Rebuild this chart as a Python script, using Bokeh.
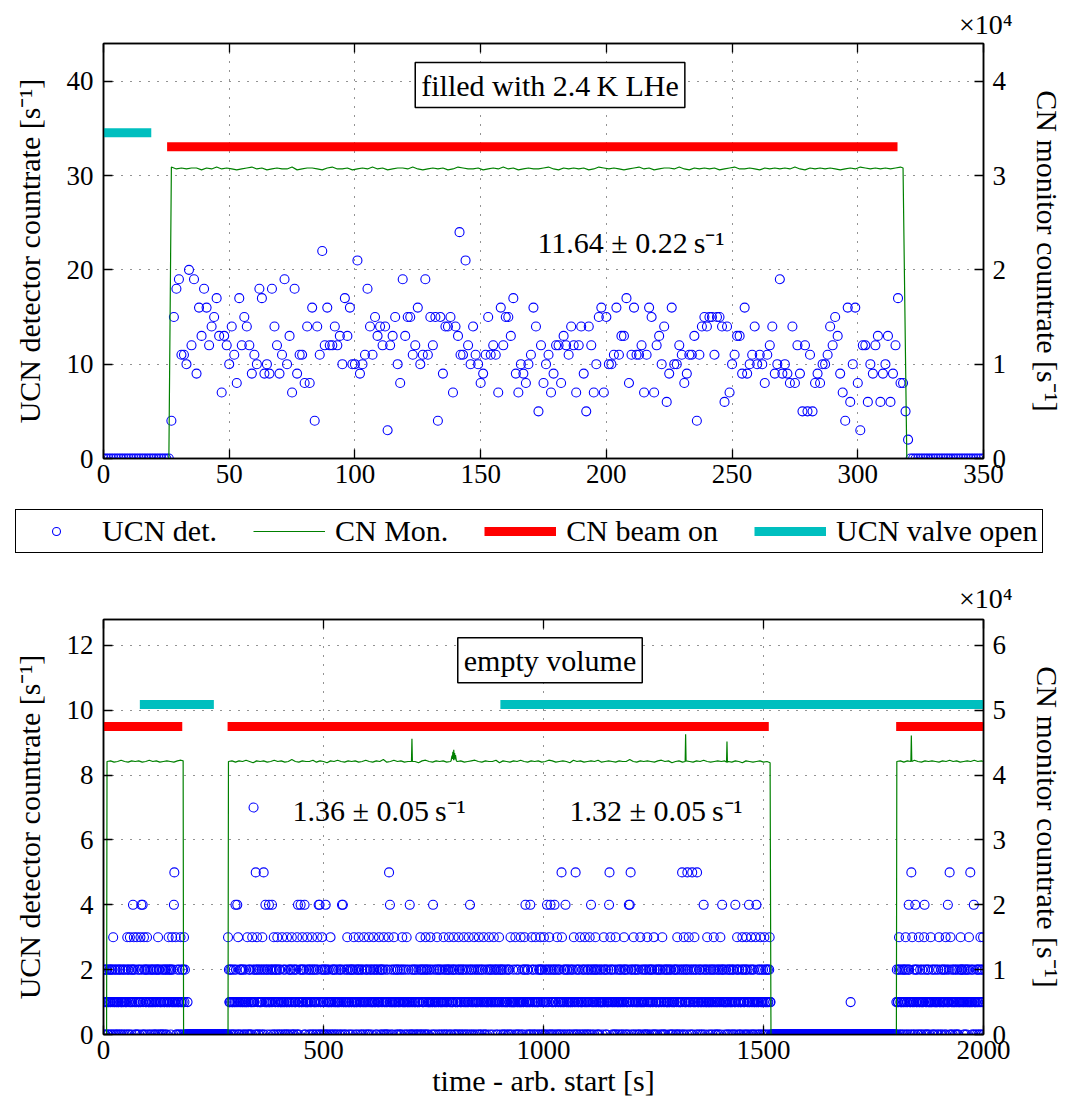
import numpy as np
from bokeh.plotting import figure
from bokeh.models import (Range1d, LinearAxis, FixedTicker, Label, Legend,
                          LegendItem, ColumnDataSource, Title)
from bokeh.layouts import column
from bokeh.embed import file_html
from bokeh.resources import INLINE

FONT = "Liberation Serif"
TICK_FS = "27px"
LAB_FS = "30px"
BLUE = "#0000FF"
GREEN = "#008000"
RED = "#FF0000"
CYAN = "#00BFBF"

# ------------------------------------------------------------------ top panel data
top_x_ticks = [0, 50, 100, 150, 200, 250, 300, 350]
top_y_ticks = [0, 10, 20, 30, 40]
top_cn_ticks = [0, 1, 2, 3, 4]

ucn_top_zero_t = list(range(0, 27)) + list(range(321, 351))
ucn_top_t = list(range(27, 321))
ucn_top_v = [
    4, 15, 18, 19, 11, 11, 10, 20, 12, 19,
    9, 16, 13, 18, 16, 12, 14, 15, 17, 13,
    7, 13, 12, 10, 14, 11, 8, 17, 12, 15,
    14, 12, 9, 11, 10, 18, 17, 9, 10, 9,
    18, 14, 12, 9, 11, 19, 10, 13, 7, 18,
    9, 11, 11, 8, 14, 8, 16, 4, 14, 11,
    22, 12, 16, 12, 12, 14, 12, 13, 10, 17,
    13, 16, 10, 10, 21, 9, 10, 11, 18, 14,
    11, 15, 13, 14, 12, 14, 3, 12, 13, 15,
    10, 8, 19, 13, 15, 15, 11, 12, 16, 10,
    11, 19, 11, 15, 12, 15, 4, 15, 9, 14,
    14, 15, 7, 14, 13, 11, 11, 21, 12, 10,
    14, 11, 10, 8, 9, 11, 15, 11, 12, 11,
    7, 16, 12, 15, 15, 13, 17, 9, 7, 10,
    9, 8, 10, 11, 16, 14, 5, 12, 8, 10,
    11, 7, 9, 12, 12, 8, 13, 12, 11, 14,
    12, 7, 12, 14, 9, 5, 14, 12, 7, 10,
    15, 16, 7, 15, 10, 10, 11, 16, 11, 13,
    13, 17, 8, 11, 16, 11, 11, 12, 7, 11,
    16, 15, 7, 12, 13, 10, 14, 6, 9, 16,
    10, 10, 12, 11, 8, 9, 11, 11, 13, 4,
    11, 14, 15, 14, 15, 15, 11, 15, 15, 14,
    6, 14, 7, 10, 11, 13, 13, 9, 16, 9,
    10, 11, 14, 10, 11, 10, 8, 11, 12, 14,
    9, 10, 19, 9, 10, 9, 8, 14, 8, 12,
    9, 5, 12, 5, 11, 5, 8, 9, 8, 10,
    10, 11, 14, 12, 15, 13, 9, 7, 4, 16,
    6, 10, 16, 8, 3, 12, 12, 6, 10, 9,
    12, 13, 6, 9, 10, 13, 6, 9, 12, 17,
    8, 8, 5, 2,
]
ucn_top_extra_t = [141.6]
ucn_top_extra_v = [24]

# CN monitor, in units of 1e4 s^-1
cn_top_t = [0, 26, 27] + list(range(29, 318, 2)) + [318, 319.5, 350]
cn_top_v = [0, 0, 3.09] + [
    3.07, 3.08, 3.07, 3.08, 3.08, 3.06, 3.08, 3.07, 3.09, 3.07,
    3.08, 3.07, 3.06, 3.07, 3.08, 3.09, 3.07, 3.08, 3.06, 3.07,
    3.08, 3.07, 3.07, 3.09, 3.06, 3.07, 3.08, 3.08, 3.07, 3.06,
    3.08, 3.09, 3.07, 3.07, 3.08, 3.06, 3.07, 3.08, 3.07, 3.09,
    3.07, 3.08, 3.06, 3.07, 3.08, 3.08, 3.07, 3.09, 3.07, 3.06,
    3.07, 3.08, 3.07, 3.08, 3.06, 3.07, 3.09, 3.08, 3.07, 3.07,
    3.08, 3.06, 3.07, 3.08, 3.07, 3.09, 3.07, 3.08, 3.06, 3.07,
    3.08, 3.07, 3.07, 3.08, 3.09, 3.07, 3.06, 3.08, 3.07, 3.08,
    3.07, 3.08, 3.06, 3.07, 3.09, 3.08, 3.07, 3.08, 3.07, 3.06,
    3.07, 3.08, 3.09, 3.07, 3.08, 3.06, 3.07, 3.08, 3.08, 3.07,
    3.09, 3.07, 3.06, 3.08, 3.07, 3.08, 3.07, 3.08, 3.06, 3.07,
    3.08, 3.09, 3.07, 3.07, 3.08, 3.07, 3.06, 3.08, 3.07, 3.08,
    3.07, 3.08, 3.07, 3.09, 3.07, 3.06, 3.08, 3.07, 3.08, 3.07,
    3.08, 3.07, 3.06, 3.07, 3.08, 3.07, 3.09, 3.08, 3.07, 3.08,
    3.07, 3.08, 3.07, 3.08, 3.09,
] + [3.08, 0, 0]

beam_top_start = [25.3]
beam_top_end = [315.8]
beam_top_y = 33.05
valve_top_start = [0]
valve_top_end = [19]
valve_top_y = 34.55

# ------------------------------------------------------------------ bottom panel data
bot_x_ticks = [0, 500, 1000, 1500, 2000]
bot_y_ticks = [0, 2, 4, 6, 8, 10, 12]
bot_cn_ticks = [0, 1, 2, 3, 4, 5, 6]

# counts per 1 s bin (0/1/2 part) during the beam-on spans
on_spans = [(0, 185), (283, 1516), (1802, 2000)]
ucn_bot_A = """
12010211201012210120211012102101201120210112012101
21011202100121021120120101202110210112021012021120
02110121021120120101220112021011020120112021012102
11202101210211201021101202110212011210210121012011
"""
ucn_bot_C = """
10211201201102101221011201021210211201012110210120
20110212011201021120012110211021012011210210112012
11201021120211012021101210211020112010211202110120
01211201021011202110212011012101120210121102012110
21012110201120121012021102011210120112021021102101
12101202110211201012102101120211202101120112012021
01120210121201120210110212101120121102012110120210
21201101201012021121021101201121012021101201021112
10112021102112010210120121102011021101202011210201
12021011210120112021101210201120211012101120120112
02112010121121020110211012021101202110121012011220
11201210102011210121102011201212010211012110201211
20110211201210120112021120102110121102021021101121
11021201102101121012011202110121201102101211020112
01211012021120210110210121102110210120112012110210
12102011210112012101212011021102112021011201021120
21011210201121010212011021120112012012102011021121
10120112021011212010212011021011021101210211201012
11202101120210112021101210211201120102112101210120
02110120121120211010210112021112021011201012021121
12011202101012112020112010121102110210121120121010
21102101210121021101120211012010120121102101121021
10211210102110201211012021121011210102120112011202
01121021211020110121210112021012102112011201021101
12102110201121012011021120121020112101201120210121
"""
ucn_bot_E = """
12011210210112012102112011021210112021102101211201
02112010121102120110201210112112010210112110120211
10210121120120211012110201210121102101201012110212
21101201210211201101210120211011201210210112012101
"""
ucn_bot_off_one_t = [191, 1698]
ucn_r3_t = [22, 54, 60, 69, 76, 84, 92, 99, 124, 148, 156, 164, 175, 183,
            283, 306, 327, 338, 349, 361, 387, 395, 406, 417, 428, 440, 452,
            463, 474, 486, 497, 516, 554, 569, 580, 592, 603, 614, 626, 637,
            648, 660, 679, 689, 720, 732, 743, 758, 773, 785, 796, 807, 819,
            830, 842, 853, 864, 876, 887, 899, 925, 936, 948, 957, 973, 982,
            993, 1001, 1013, 1031, 1042, 1069, 1083, 1094, 1105, 1118, 1137,
            1152, 1164, 1183, 1205, 1220, 1236, 1251, 1270, 1304, 1319, 1330,
            1343, 1372, 1387, 1402, 1440, 1452, 1461, 1472, 1482, 1493, 1502,
            1514, 1808, 1823, 1838, 1853, 1865, 1880, 1899, 1914, 1925, 1948,
            1967, 1993, 1999]
ucn_r4_t = [67, 86, 89, 160, 300, 304, 368, 376, 383, 442, 448, 457, 489,
            491, 505, 542, 544, 651, 696, 749, 833, 959, 970, 1008, 1016,
            1025, 1050, 1108, 1149, 1194, 1196, 1364, 1406, 1436, 1467, 1484,
            1830, 1845, 1866, 1919, 1978]
ucn_r5_t = [161, 346, 364, 649, 1041, 1073, 1150, 1198, 1315, 1327, 1338,
            1349, 1836, 1923, 1970]
ucn_r7_t = [341]

cn_bot_t = ([0, 7] + list(range(8, 181, 8)) + [181, 182, 283]
            + list(range(284, 1516, 8)) + [1515, 1517, 1802]
            + list(range(1803, 2001, 8)) + [2000])
cn_bot_v = ([0, 0] + [
    4.21, 4.22, 4.20, 4.21, 4.23, 4.21, 4.20, 4.22, 4.21, 4.22,
    4.20, 4.21, 4.23, 4.21, 4.22, 4.20, 4.21, 4.22, 4.21, 4.20,
    4.22, 4.23] + [4.22, 0, 0] + [
    4.21, 4.22, 4.20, 4.22, 4.21, 4.23, 4.21, 4.19, 4.22, 4.21,
    4.22, 4.20, 4.21, 4.23, 4.21, 4.22, 4.20, 4.21, 4.24, 4.21,
    4.20, 4.22, 4.21, 4.21, 4.23, 4.20, 4.22, 4.21, 4.19, 4.22,
    4.21, 4.23, 4.21, 4.20, 4.22, 4.21, 4.22, 4.20, 4.21, 4.23,
    4.21, 4.20, 4.22, 4.21, 4.24, 4.20, 4.21, 4.23, 4.21, 4.22,
    4.20, 4.21, 4.22, 4.21, 4.19, 4.22, 4.23, 4.21, 4.20, 4.22,
    4.21, 4.22, 4.20, 4.21, 4.23, 4.21, 4.22, 4.20, 4.21, 4.22,
    4.23, 4.21, 4.20, 4.22, 4.21, 4.21, 4.23, 4.19, 4.22, 4.21,
    4.20, 4.22, 4.21, 4.23, 4.21, 4.20, 4.22, 4.21, 4.22, 4.20,
    4.21, 4.23, 4.22, 4.20, 4.21, 4.22, 4.21, 4.19, 4.23, 4.21,
    4.22, 4.20, 4.21, 4.22, 4.21, 4.23, 4.20, 4.21, 4.22, 4.21,
    4.20, 4.22, 4.21, 4.21, 4.24, 4.21, 4.20, 4.22, 4.21, 4.22,
    4.21, 4.20, 4.22, 4.23, 4.21, 4.22, 4.19, 4.21, 4.22, 4.20,
    4.22, 4.21, 4.20, 4.22, 4.21, 4.23, 4.21, 4.20, 4.21, 4.22,
    4.21, 4.22, 4.21, 4.20, 4.22, 4.21, 4.19, 4.22, 4.21, 4.20,
    4.21, 4.22, 4.20, 4.21] + [4.19, 0, 0] + [
    4.21, 4.22, 4.20, 4.22, 4.21, 4.23, 4.21, 4.20, 4.22, 4.21,
    4.22, 4.21, 4.20, 4.22, 4.21, 4.23, 4.21, 4.22, 4.20, 4.21,
    4.22, 4.21, 4.23, 4.21, 4.22] + [4.21])
cn_bot_spike_t = [700, 701, 702, 790, 792, 793, 794, 795, 796, 797, 798, 799,
                  800, 802, 1322, 1323, 1324, 1416, 1417, 1418, 1835, 1836, 1837]
cn_bot_spike_v = [4.21, 4.56, 4.21, 4.22, 4.30, 4.25, 4.36, 4.26, 4.39, 4.28,
                  4.34, 4.24, 4.31, 4.22, 4.21, 4.63, 4.21, 4.20, 4.52, 4.20,
                  4.21, 4.61, 4.21]

beam_bot_start = [0, 282, 1801.5]
beam_bot_end = [179, 1512, 2000]
beam_bot_y = 9.5
valve_bot_start = [82.6, 902]
valve_bot_end = [250.8, 2000]
valve_bot_y = 10.18

legend_labels = ["UCN det.", "CN Mon.", "CN beam on", "UCN valve open"]
multiplier_text = "×10⁴"

# ------------------------------------------------------------------ layout sizes (px)
FRAME_W, FRAME_H = 880, 415
BORDER_L, BORDER_R = 103, 84
PAGE_W = BORDER_L + FRAME_W + BORDER_R


# ------------------------------------------------------------------ helpers
def make_fig(xr, yr, cnr, xt, yt, cnt, top_border, bottom_border,
             mult_standoff, xlabel=None):
    p = figure(frame_width=FRAME_W, frame_height=FRAME_H,
               x_range=Range1d(*xr), y_range=Range1d(*yr),
               output_backend="svg", toolbar_location=None,
               min_border_left=BORDER_L, min_border_right=BORDER_R,
               min_border_top=top_border, min_border_bottom=bottom_border)
    p.extra_y_ranges = {"cn": Range1d(*cnr)}
    lax = p.left[0]
    bax = p.below[0]
    lax.ticker = FixedTicker(ticks=yt)
    bax.ticker = FixedTicker(ticks=xt)
    lax.axis_label = "UCN detector countrate [s⁻¹]"
    lax.axis_label_standoff = 18
    lax.major_label_standoff = 10
    rax = LinearAxis(y_range_name="cn", ticker=FixedTicker(ticks=cnt),
                     axis_label="CN monitor countrate [s⁻¹]")
    rax.axis_label_standoff = 22
    rax.major_label_standoff = 9
    p.add_layout(rax, "right")
    tax = LinearAxis(ticker=FixedTicker(ticks=xt),
                     major_label_overrides={t: "" for t in xt},
                     major_label_standoff=0)
    p.add_layout(tax, "above")
    bax.major_label_standoff = 6
    if xlabel:
        bax.axis_label = xlabel
        bax.axis_label_standoff = 2
    for ax in [lax, bax, rax, tax]:
        ax.major_tick_in = 9
        ax.major_tick_out = 0
        ax.minor_tick_line_color = None
        ax.axis_line_width = 1.5
        ax.axis_line_color = "black"
        ax.major_tick_line_width = 1.3
        ax.major_tick_line_color = "black"
        ax.major_label_text_font = FONT
        ax.major_label_text_color = "black"
        ax.major_label_text_font_size = TICK_FS
        ax.axis_label_text_font = FONT
        ax.axis_label_text_font_size = LAB_FS
        ax.axis_label_text_font_style = "normal"
        ax.axis_label_text_color = "black"
    # "x10^4" multiplier of the right axis, above its top end
    p.add_layout(Title(text=multiplier_text, align="right", offset=-29,
                       standoff=mult_standoff,
                       text_font=FONT, text_font_size="28px",
                       text_font_style="normal", text_color="black"),
                 "above")
    p.xgrid.ticker = FixedTicker(ticks=xt)
    p.ygrid.ticker = FixedTicker(ticks=yt)
    for g in [p.xgrid[0], p.ygrid[0]]:
        g.grid_line_color = "black"
        g.grid_line_dash = "1 8"
        g.grid_line_width = 1
        g.grid_line_alpha = 0.85
    p.outline_line_color = "black"
    p.outline_line_width = 1.5
    p.outline_line_alpha = 1
    p.background_fill_color = "white"
    p.border_fill_color = "white"
    return p


def strip(height):
    s = figure(frame_width=PAGE_W, frame_height=height,
               x_range=Range1d(0, PAGE_W), y_range=Range1d(0, height),
               output_backend="svg", toolbar_location=None,
               x_axis_type=None, y_axis_type=None, min_border=0)
    s.grid.visible = False
    s.outline_line_color = None
    s.background_fill_color = "white"
    s.border_fill_color = "white"
    return s


def box_label(x, y, text):
    return Label(x=x, y=y, text=text, text_font=FONT, text_font_size=LAB_FS,
                 text_color="black",
                 text_align="center", text_baseline="middle",
                 border_line_color="black", border_line_width=1.5,
                 background_fill_color="white", background_fill_alpha=1,
                 padding=6)


def plain_label(x, y, text, **kw):
    return Label(x=x, y=y, text=text, text_font=FONT, text_font_size=LAB_FS,
                 text_color="black", text_baseline="middle", **kw)


def add_series(p, sc_src, cn_t, cn_v, b0, b1, by, v0, v1, vy,
               marker_size=9, visible=True):
    r_sc = p.scatter("t", "v", source=sc_src, marker="circle", size=marker_size,
                     fill_color=None, line_color=BLUE, line_width=1.1,
                     visible=visible)
    r_cn = p.line(cn_t, cn_v, y_range_name="cn",
                  line_color=GREEN, line_width=1.2, visible=visible)
    r_beam = p.segment(x0=b0, x1=b1, y0=[by] * len(b0), y1=[by] * len(b0),
                       line_color=RED, line_width=9, line_cap="butt",
                       visible=visible)
    r_valve = p.segment(x0=v0, x1=v1, y0=[vy] * len(v0), y1=[vy] * len(v0),
                        line_color=CYAN, line_width=9, line_cap="butt",
                        visible=visible)
    return [r_sc, r_cn, r_beam, r_valve]


# ------------------------------------------------------------------ top figure
p1 = make_fig((0, 350), (0, 44), (0, 4.4), top_x_ticks, top_y_ticks,
              top_cn_ticks, 43, 43, 8)

sc_top = ColumnDataSource(dict(
    t=ucn_top_zero_t + ucn_top_t + ucn_top_extra_t,
    v=[0] * len(ucn_top_zero_t) + ucn_top_v + ucn_top_extra_v))
add_series(p1, sc_top, cn_top_t, cn_top_v, beam_top_start, beam_top_end,
           beam_top_y, valve_top_start, valve_top_end, valve_top_y)

p1.add_layout(box_label(177.6, 39.6, "filled with 2.4\u2009K LHe"))
p1.add_layout(plain_label(172.6, 22.9, "11.64 ± 0.22\u2009s⁻¹"))

# ------------------------------------------------------------------ legend strip
pl = strip(60)
pl.extra_y_ranges = {"cn": Range1d(0, 4.4)}
# hidden copies of the top-panel series: they only feed the legend glyphs
leg_r = add_series(pl, sc_top, cn_top_t, cn_top_v, beam_top_start, beam_top_end,
                   beam_top_y, valve_top_start, valve_top_end, valve_top_y,
                   marker_size=7, visible=False)
legend = Legend(items=[LegendItem(label=lab, renderers=[r])
                       for lab, r in zip(legend_labels, leg_r)],
                orientation="horizontal", location=(15, 8),
                click_policy="none",
                label_text_font=FONT, label_text_font_size=LAB_FS,
                label_text_color="black",
                glyph_width=72, glyph_height=20, label_standoff=10,
                spacing=36, padding=4, margin=0,
                border_line_color="black", border_line_width=1.5,
                border_line_alpha=1, background_fill_alpha=1)
pl.add_layout(legend, "center")

# ------------------------------------------------------------------ bottom figure
p2 = make_fig((0, 2000), (0, 12.8), (0, 6.4), bot_x_ticks, bot_y_ticks,
              bot_cn_ticks, 58, 70, 11, xlabel="time - arb. start [s]")

vals = np.zeros(2001, dtype=int)
for (a, b), s in zip(on_spans, [ucn_bot_A, ucn_bot_C, ucn_bot_E]):
    digits = "".join(s.split())
    n = b - a + 1
    digits = digits.ljust(n, "0")[:n]
    vals[a:b + 1] = [int(c) for c in digits]
for t in ucn_bot_off_one_t:
    vals[t] = 1
for lvl, ts in [(3, ucn_r3_t), (4, ucn_r4_t), (5, ucn_r5_t), (7, ucn_r7_t)]:
    for t in ts:
        vals[t] = lvl
sc_bot = ColumnDataSource(dict(t=np.arange(2001), v=vals))

pairs = sorted(zip(cn_bot_t + cn_bot_spike_t, cn_bot_v + cn_bot_spike_v))
add_series(p2, sc_bot, [a for a, _ in pairs], [b for _, b in pairs],
           beam_bot_start, beam_bot_end, beam_bot_y,
           valve_bot_start, valve_bot_end, valve_bot_y)

p2.add_layout(box_label(1014.8, 11.54, "empty volume"))
p2.add_layout(plain_label(429.5, 6.91, "1.36 ± 0.05\u2009s⁻¹"))
p2.add_layout(plain_label(1059, 6.91, "1.32 ± 0.05\u2009s⁻¹"))

layout = column(p1, pl, p2, spacing=0)
open("out.html", "w").write(file_html(layout, INLINE))
